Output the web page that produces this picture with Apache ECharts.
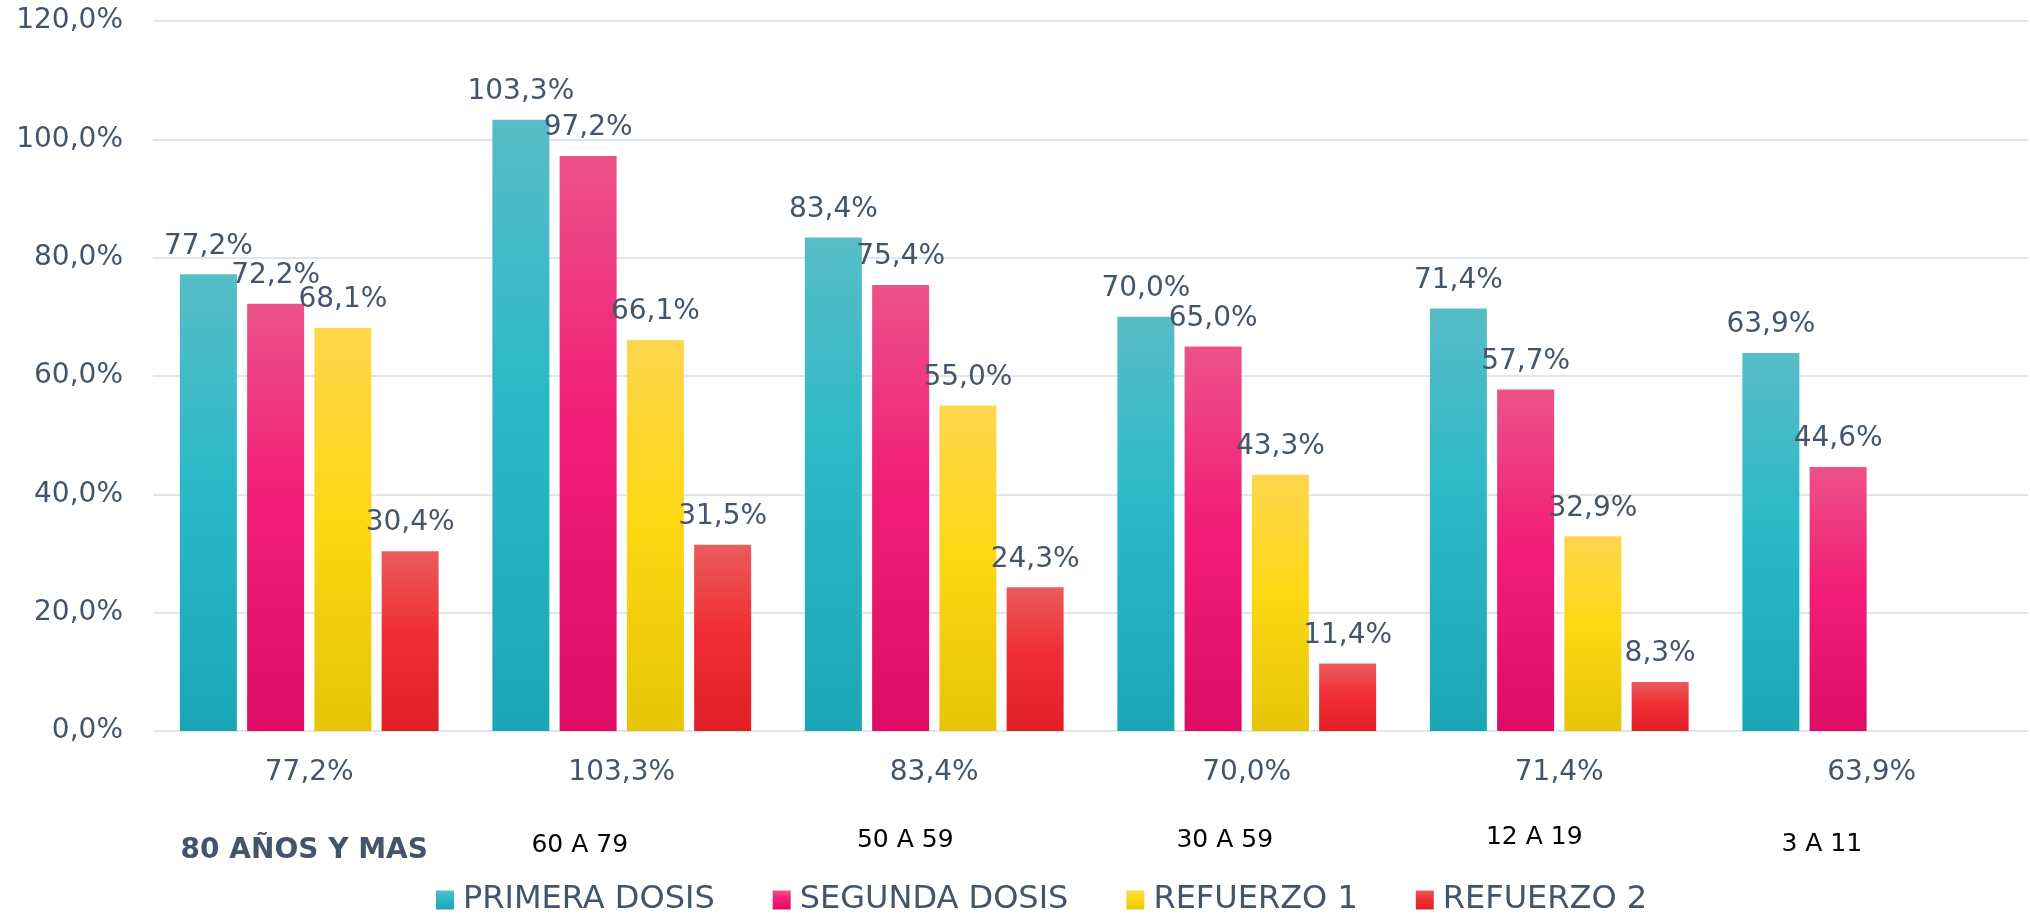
<!DOCTYPE html>
<html>
<head>
<meta charset="utf-8">
<script src="https://cdn.jsdelivr.net/npm/echarts@6/dist/echarts.min.js"></script>
<style>
html,body{margin:0;padding:0;background:#fff;}
#chart{width:2030px;height:914px;}
</style>
</head>
<body>
<div id="chart"></div>
<script>
// ---- data ----
const categories = ['80 AÑOS Y MAS', '60 A 79', '50 A 59', '30 A 59', '12 A 19', '3 A 11'];
const seriesNames = ['PRIMERA DOSIS', 'SEGUNDA DOSIS', 'REFUERZO 1', 'REFUERZO 2'];
const primeraDosis = [77.2, 103.3, 83.4, 70.0, 71.4, 63.9];
const segundaDosis = [72.2, 97.2, 75.4, 65.0, 57.7, 44.6];
const refuerzo1 = [68.1, 66.1, 55.0, 43.3, 32.9, null];
const refuerzo2 = [30.4, 31.5, 24.3, 11.4, 8.3, null];
const axisValueLabels = ['77,2%', '103,3%', '83,4%', '70,0%', '71,4%', '63,9%'];
const yMin = 0, yMax = 120, yInterval = 20;

// ---- styles ----
const FONT = "'DejaVu Sans', sans-serif";
const TXT = '#44546A';
const gradients = [
  ['#57BDC7', '#2BB9C7', '#1BA6B6'],
  ['#EC5288', '#F21E77', '#DF0C65'],
  ['#FFD64D', '#FDD815', '#E5C506'],
  ['#EA5B5E', '#EF2F33', '#DF2024']
];
// label nudges for the hand-placed category names (px left, px down)
const nameShiftLeft = [5, 42, 29, 22, 25, 50];
const nameShiftDown = [12, 8, 3, 3, 0, 7];

const fmt = v => v.toFixed(1).replace('.', ',') + '%';

const allData = [primeraDosis, segundaDosis, refuerzo1, refuerzo2];
const series = seriesNames.map((name, k) => ({
  name: name,
  type: 'bar',
  data: allData[k],
  barWidth: 57,
  barGap: '18%',
  itemStyle: {
    color: new echarts.graphic.LinearGradient(0, 0, 0, 1, [
      {offset: 0, color: gradients[k][0]},
      {offset: 0.45, color: gradients[k][1]},
      {offset: 1, color: gradients[k][2]}
    ])
  },
  label: {
    show: true,
    position: 'top',
    distance: 14,
    fontFamily: FONT,
    fontSize: 28,
    color: TXT,
    formatter: p => (p.value == null ? '' : fmt(p.value))
  }
}));

const rich = {};
categories.forEach((c, i) => {
  rich['c' + i] = i === 0
    ? {fontFamily: FONT, fontSize: 28, fontWeight: 'bold', color: TXT,
       padding: [nameShiftDown[i], nameShiftLeft[i] * 2, 0, 0]}
    : {fontFamily: FONT, fontSize: 25, color: '#000000',
       padding: [nameShiftDown[i], nameShiftLeft[i] * 2, 0, 0]};
});

const chart = echarts.init(document.getElementById('chart'));
chart.setOption({
  animation: false,
  backgroundColor: '#ffffff',
  grid: {left: 153, right: 2, top: 21, bottom: 183, containLabel: false},
  legend: {
    data: seriesNames,
    left: 431,
    top: 879,
    icon: 'rect',
    itemWidth: 18,
    itemHeight: 19,
    itemGap: 58,
    textStyle: {fontFamily: FONT, fontSize: 32, color: TXT, padding: [0, 0, 0, 4]}
  },
  xAxis: [
    {
      type: 'category',
      data: categories,
      axisLine: {show: false},
      axisTick: {show: false},
      splitLine: {show: false},
      axisLabel: {
        margin: 28,
        fontFamily: FONT,
        fontSize: 28,
        color: TXT,
        formatter: (v, i) => axisValueLabels[i]
      }
    },
    {
      type: 'category',
      data: categories,
      position: 'bottom',
      offset: 80,
      axisLine: {show: false},
      axisTick: {show: false},
      splitLine: {show: false},
      axisLabel: {
        margin: 14,
        interval: 0,
        formatter: (v, i) => '{c' + i + '|' + v + '}',
        rich: rich
      }
    }
  ],
  yAxis: {
    type: 'value',
    min: yMin,
    max: yMax,
    interval: yInterval,
    axisLine: {show: false},
    axisTick: {show: false},
    splitLine: {lineStyle: {color: '#E2E6EC', width: 2}},
    axisLabel: {
      margin: 30,
      fontFamily: FONT,
      fontSize: 28,
      color: TXT,
      formatter: v => fmt(v)
    }
  },
  series: series
});
</script>
</body>
</html>
